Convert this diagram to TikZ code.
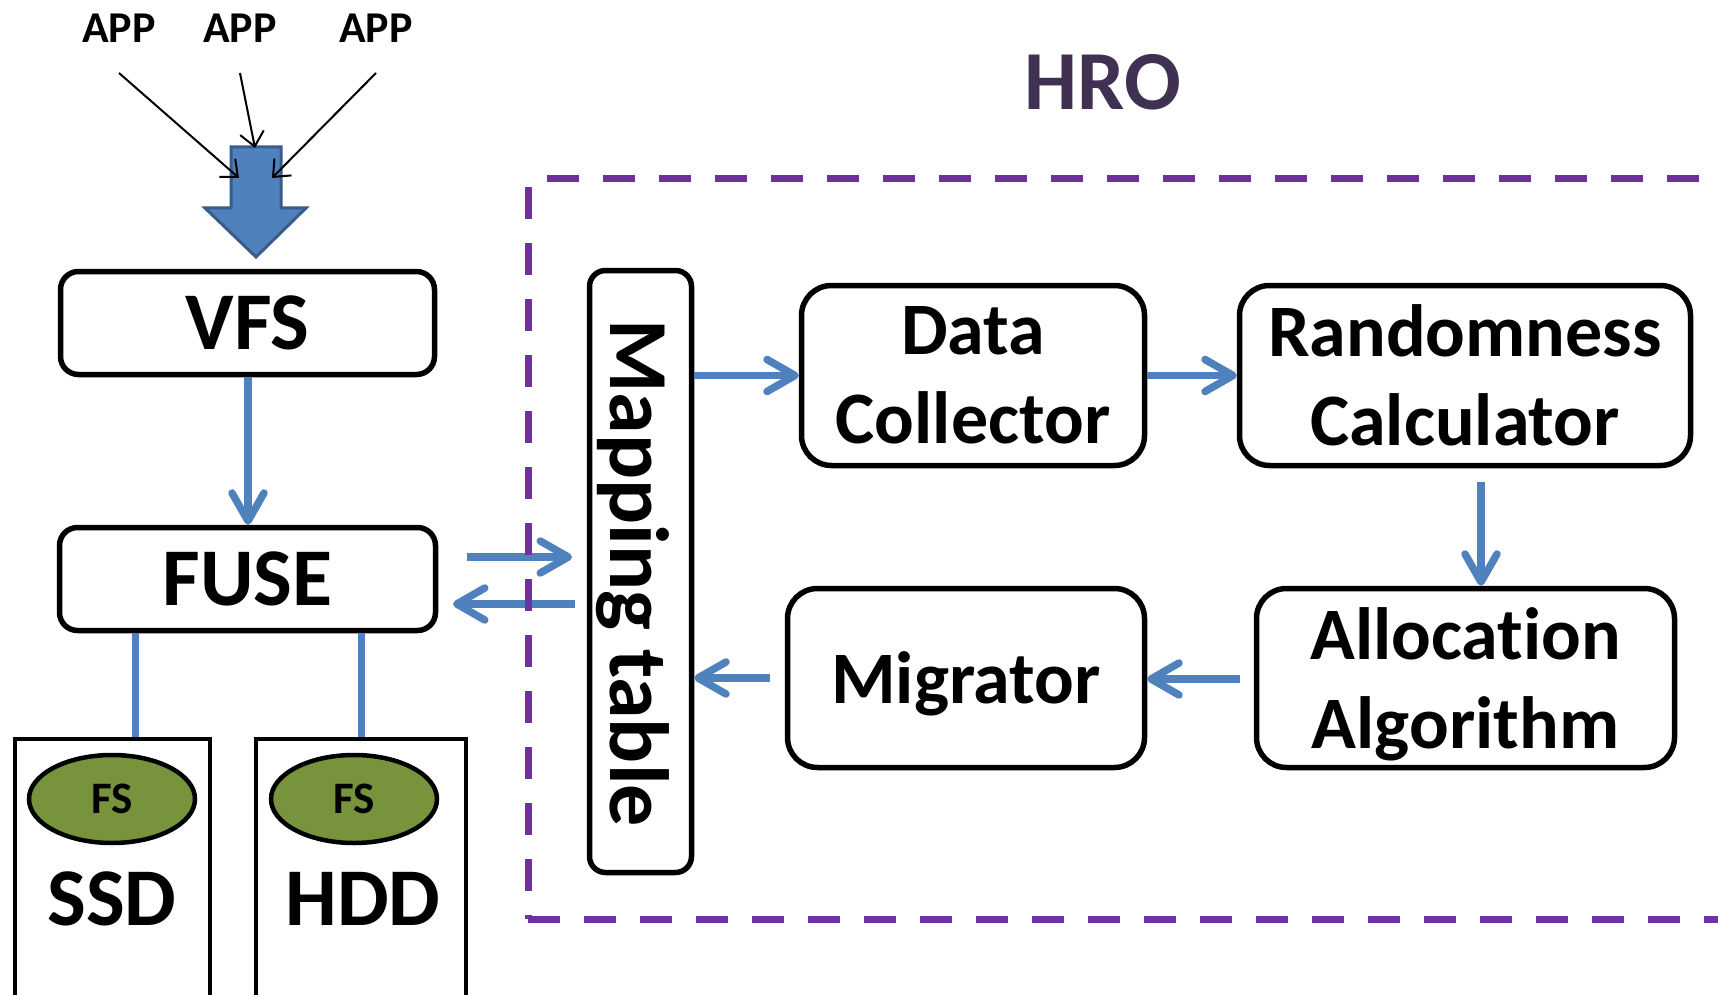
\documentclass[tikz,border=0pt]{standalone}
\usepackage{fontspec}
\usepackage{graphicx}
\setmainfont{Carlito}[Ligatures={NoCommon,NoContextual},Contextuals=NoAlternate]
\usetikzlibrary{arrows.meta,shapes.geometric,calc}
\definecolor{ablue}{HTML}{4F81BD}
\definecolor{ablueedge}{HTML}{385D8A}
\definecolor{hpurple}{HTML}{7030A0}
\definecolor{hrotext}{HTML}{403152}
\definecolor{fsgreen}{HTML}{77933C}
\begin{document}
\begin{tikzpicture}[x=1pt,y=-1pt,
  rbox/.style={draw=black,line width=5.5pt,rounded corners=18pt,inner sep=0pt,text depth=0pt,align=center},
  bigbox/.style={rbox,rounded corners=30pt},
  diskbox/.style={draw=black,line width=4.5pt,inner sep=0pt},
  fsell/.style={ellipse,draw=black,line width=4.5pt,fill=fsgreen,inner sep=0pt,minimum width=166pt,minimum height=88pt,text depth=0pt,font=\fontsize{45}{54}\selectfont\bfseries},
  flow/.style={draw=ablue,line width=7.5pt,-{Straight Barb[length=28pt,width=32pt,round]}},
  link/.style={draw=ablue,line width=7pt},
  feed/.style={draw=black,line width=2pt,-{Straight Barb[length=14pt,width=24pt]}},
  hro/.style={draw=hpurple,line width=7pt,dash pattern=on 32pt off 24pt},
  fbig/.style={font=\fontsize{82}{98}\selectfont\bfseries},
  fmid/.style={font=\fontsize{74}{89}\selectfont\bfseries},
  fsmall/.style={font=\fontsize{44}{53}\selectfont\bfseries},
]
\clip (0,0) rectangle (1718,995);
\fill[white] (0,0) rectangle (1718,995);

% APP labels and feed arrows
\node[fsmall,anchor=base,inner sep=0pt] (app1) at (119,43) {APP};
\node[fsmall,anchor=base,inner sep=0pt] (app2) at (240,43) {APP};
\node[fsmall,anchor=base,inner sep=0pt] (app3) at (376,43) {APP};

% block arrow
\draw[fill=ablue,draw=ablueedge,line width=3pt,line join=miter]
  (231,147) -- (281,147) -- (281,208) -- (306,208) -- (256,257) -- (205,208) -- (231,208) -- cycle;
\coordinate (s1) at (119,73);
\coordinate (s2) at (240,73);
\coordinate (s3) at (376,73);
\coordinate (t1) at (239,178);
\coordinate (t2) at (255,148);
\coordinate (t3) at (272,178);
\draw[feed] (s1) -- (t1);
\draw[feed] (s2) -- (t2);
\draw[feed] (s3) -- (t3);

% left column
\node[rbox,fbig,minimum width=374pt,minimum height=103pt] (vfs) at (247.5,323) {VFS};
\node[rbox,fbig,minimum width=376pt,minimum height=103pt] (fuse) at (247.5,579) {FUSE};
\coordinate (vx) at (248,0);
\draw[flow] (vfs.south -| vx) -- (fuse.north -| vx);

\node[diskbox,minimum width=195pt,minimum height=280pt] (ssd) at (112.5,879) {};
\node[diskbox,minimum width=210pt,minimum height=280pt] (hdd) at (361,879) {};
\node[fsell] (fs1) at (112,799) {FS};
\node[fsell] (fs2) at (354,799) {FS};
\node[fbig,anchor=base,inner sep=0pt] (ssdlbl) at (112,925) {SSD};
\node[fbig,anchor=base,inner sep=0pt] (hddlbl) at (363,925) {HDD};
\coordinate (sx) at (135,0);
\coordinate (hx) at (361,0);
\draw[link] (fuse.south -| sx) -- (ssd.north -| sx);
\draw[link] (fuse.south -| hx) -- (hdd.north -| hx);

% HRO
\node[anchor=base,inner sep=0pt,text=hrotext,font=\fontsize{84}{100}\selectfont\bfseries] (hro) at (1103,110) {HRO};

\node[rbox,rounded corners=16pt,minimum width=102pt,minimum height=602pt] (map) at (640.5,571.5) {};
\node[font=\fontsize{84}{100}\selectfont\bfseries,rotate=-90,text depth=0pt,inner sep=0pt] (maplbl) at (640,573) {Mapping table};

\node[bigbox,fmid,minimum width=343pt,minimum height=180pt] (data) at (973,375.5) {Data\\Collector};
\node[bigbox,fmid,minimum width=451pt,minimum height=180pt] (rand) at (1465,375.5) {Randomness\\Calculator};
\node[bigbox,fmid,minimum width=418pt,minimum height=179pt] (alloc) at (1465.5,678) {Allocat\kern0pt ion\\Algorithm};
\node[bigbox,fmid,minimum width=357pt,minimum height=179pt] (migr) at (966,678) {Migrator};

\draw[flow] (map.east |- data.west) -- (data.west);
\draw[flow] (data.east) -- (rand.west);
\coordinate (ra) at (1481,482);
\draw[flow] (ra) -- (ra |- alloc.north);
\coordinate (am) at (1240,679);
\draw[flow] (am) -- (am -| migr.east);
\coordinate (mm) at (770,678);
\draw[flow] (mm) -- (mm -| map.east);

\coordinate (fm1) at (467,557);
\coordinate (fm1e) at (572,557);
\draw[flow] (fm1) -- (fm1e);
\coordinate (mf1) at (575,604);
\coordinate (mf1e) at (453,604);
\draw[flow] (mf1) -- (mf1e);

% dashed HRO frame
\draw[hro] (547,179) -- (1740,179);
\draw[hro] (528,187) -- (528,919);
\draw[hro] (528,919) -- (1740,919);
\end{tikzpicture}
\end{document}
